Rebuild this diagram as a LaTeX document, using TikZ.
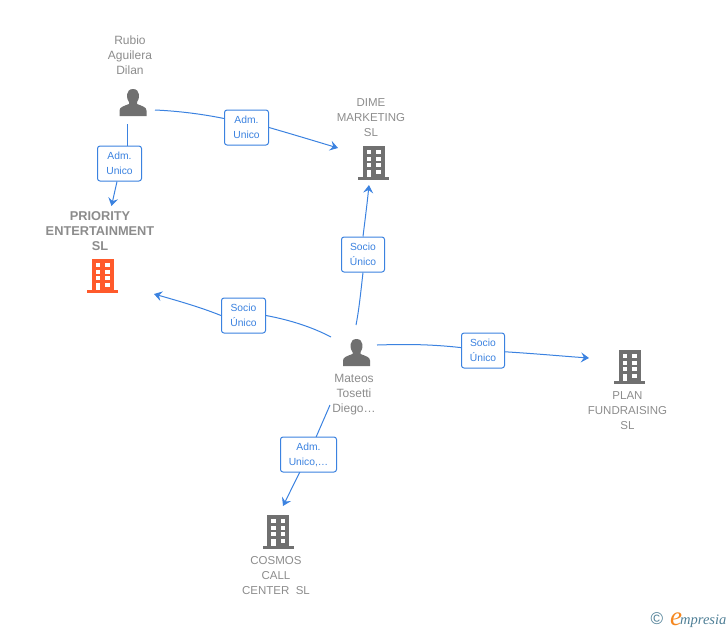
\documentclass[tikz,border=0pt]{standalone}
\usepackage{fontspec}
\setmainfont{Liberation Sans}
\newfontfamily\logofont{Liberation Serif}
\usetikzlibrary{arrows.meta,backgrounds}
\definecolor{linkblue}{HTML}{3B82E0}
\definecolor{icongray}{HTML}{707070}
\definecolor{textgray}{HTML}{8C8C8C}
\definecolor{hotorange}{HTML}{FF5A2B}
\definecolor{logoblue}{HTML}{4F7F96}
\definecolor{logoorange}{HTML}{F5871F}
\tikzset{
  x=1pt,y=-1pt,
  linkbox/.style={draw=linkblue,line width=1pt,rounded corners=2.5pt,fill=white,text=linkblue,
    font=\fontsize{10.3}{15}\selectfont,align=center,inner sep=0pt,minimum height=35pt},
  caption/.style={text=textgray,font=\fontsize{11.5}{15}\selectfont,align=center,inner sep=0pt},
  personcaption/.style={text=textgray,font=\fontsize{12}{15}\selectfont,align=center,inner sep=0pt},
  boldcaption/.style={text=textgray,font=\fontsize{12.8}{15}\selectfont\bfseries,align=center,inner sep=0pt},
  link/.style={draw=linkblue,line width=1pt},
  tip/.style={-{Stealth[length=8pt,width=10pt,inset=3pt]}},
  personicon/.pic={
    \fill[icongray] (-13.5,13.5) -- (-13.5,8) .. controls (-13.5,4.5) and (-9,3.5) .. (-4,1.5)
      -- (-4,-0.5) .. controls (-7,-3.5) and (-7.5,-13.5) .. (0,-13.5)
      .. controls (7.5,-13.5) and (7,-3.5) .. (4,-0.5) -- (4,1.5)
      .. controls (9,3.5) and (13.5,4.5) .. (13.5,8) -- (13.5,13.5) -- cycle;
  },
  buildingicon/.pic={
    \fill[#1] (-11,-17) rectangle (11,14);
    \fill[#1] (-15.5,14) rectangle (15.5,17);
    \foreach \r in {-13,-6.5,0,6.5}{
      \fill[white] (-7,\r) rectangle (-2.5,\r+4);
      \fill[white] (2.5,\r) rectangle (7,\r+4);
    }
    \fill[white] (-7,6.5) rectangle (-2.5,14);
  },
}
\begin{document}
\begin{tikzpicture}
\useasboundingbox (0,0) rectangle (728,630);
% icons
\pic at (133,102.5) {personicon};
\pic at (356.5,352.5) {personicon};
\pic at (102.5,276) {buildingicon=hotorange};
\pic at (373.5,163) {buildingicon=icongray};
\pic at (629.5,367) {buildingicon=icongray};
\pic at (278,532) {buildingicon=icongray};
% captions
\node[personcaption] (rubio) at (130,55) {Rubio\\Aguilera\\Dilan};
\node[boldcaption] (priority) at (100,231) {PRIORITY\\ENTERTAINMENT\\SL};
\node[caption] (dime) at (371,117.5) {DIME\\MARKETING\\SL};
\node[personcaption] (mateos) at (354,395) {Mateos\\Tosetti\\Diego\ldots};
\node[caption] (plan) at (627.5,411) {PLAN\\FUNDRAISING\\SL};
\node[caption] (cosmos) at (276,576) {COSMOS\\CALL\\CENTER\ \ SL};
% link boxes
\node[linkbox,minimum width=44pt] (b1) at (119.5,163.5) {Adm.\\Unico};
\node[linkbox,minimum width=44pt] (b2) at (246.5,127.5) {Adm.\\Unico};
\node[linkbox,minimum width=43pt] (b3) at (363,254.5) {Socio\\Único};
\node[linkbox,minimum width=44pt] (b4) at (243.5,315.5) {Socio\\Único};
\node[linkbox,minimum width=43pt] (b5) at (483,350.5) {Socio\\Único};
\node[linkbox,minimum width=56pt] (b6) at (308.5,454.5) {Adm.\\Unico,\ldots};
% free ends
\coordinate (s1) at (127,124);
\coordinate (e1) at (111.5,206);
\coordinate (s2) at (155,110);
\coordinate (e2) at (338,148);
\coordinate (s3) at (356,325);
\coordinate (e3) at (369,185);
\coordinate (s4) at (331,337);
\coordinate (e4) at (154,294);
\coordinate (s5) at (377,345);
\coordinate (e5) at (589,358);
\coordinate (s6) at (330,405);
\coordinate (e6) at (283,506);
\begin{scope}[on background layer]
\draw[link] (s1) -- (b1.north -| s1);
\draw[link,tip] ([xshift=-2.5pt]b1.south) -- (e1);
\draw[link] (s2) .. controls (178,111) and (202,114) .. ([yshift=9pt]b2.west);
\draw[link,tip] (b2.east) .. controls (295,135) and (318,142) .. (e2);
\draw[link] (s3) .. controls (359,310) and (361,290) .. (b3.south);
\draw[link,tip] (b3.north) .. controls (365,220) and (367,205) .. (e3);
\draw[link] (s4) .. controls (312,327) and (290,320) .. (b4.east);
\draw[link,tip] (b4.west) .. controls (200,307) and (175,300) .. (e4);
\draw[link] (s5) .. controls (410,344) and (440,344) .. (b5.center);
\draw[link,tip] (b5.center) .. controls (530,353) and (560,356) .. (e5);
\draw[link] (s6) -- (b6.center);
\draw[link,tip] (b6.center) -- (e6);
\end{scope}
% logo
\node[inner sep=0pt,text=logoblue,font=\fontsize{17}{17}\selectfont] (copy) at (657,619) {©};
\node[inner sep=0pt,anchor=base west,text=logoorange,font=\logofont\itshape\fontsize{27}{27}\selectfont] (elogo) at (670,625) {e};
\node[inner sep=0pt,anchor=base west,text=logoblue,font=\logofont\itshape\fontsize{14.5}{14.5}\selectfont] (rest) at (680,624) {mpresia};
\end{tikzpicture}
\end{document}
